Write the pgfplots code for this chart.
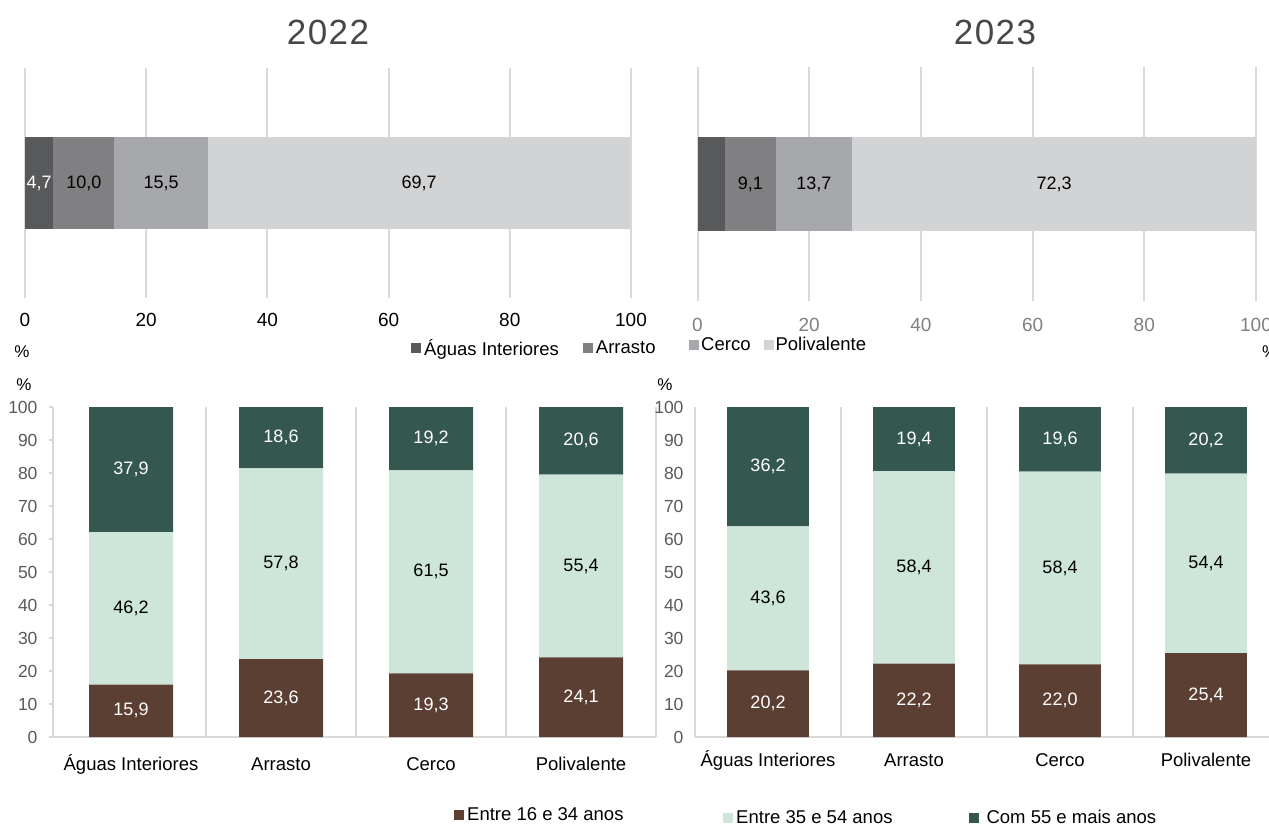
\documentclass[border=0pt]{standalone}
\usepackage{fontspec}
\setmainfont{Liberation Sans}
\usepackage{pgfplots}
\pgfplotsset{compat=1.18}
\definecolor{cA}{HTML}{58595B}
\definecolor{cB}{HTML}{808083}
\definecolor{cC}{HTML}{A7A8AB}
\definecolor{cD}{HTML}{D2D3D5}
\definecolor{cbrown}{HTML}{5C3F33}
\definecolor{clgreen}{HTML}{CDE6D9}
\definecolor{cdgreen}{HTML}{34574F}
\definecolor{gridc}{HTML}{D9D9D9}
\definecolor{tickc}{HTML}{595959}
\definecolor{tickg}{HTML}{808080}
\newcommand{\fs}[1]{\fontsize{#1}{#1}\selectfont}
\pgfplotsset{/pgf/number format/assume math mode=true}
\begin{document}
\begin{tikzpicture}
\useasboundingbox (0,0) rectangle (1269pt,828pt);
% ---------------- titles and units
\node[font=\fs{35}, text=black!72] at (328pt,796pt) {2\kern1.5pt0\kern1.5pt2\kern1.5pt2};
\node[font=\fs{35}, text=black!72] at (995pt,796pt) {2\kern1.5pt0\kern1.5pt2\kern1.5pt3};
\node[font=\fs{17}] at (22pt,476pt) {\%};
\node[font=\fs{17}, anchor=west, inner sep=0pt] at (1262pt,476pt) {\%};
\node[font=\fs{17}] at (24pt,443pt) {\%};
\node[font=\fs{17}] at (665pt,443pt) {\%};

% ---------------- top left 2022
\begin{axis}[
  at={(25pt,530pt)}, anchor=south west,
  scale only axis, width=606pt, height=230pt,
  xbar stacked, bar width=1,
  xmin=0, xmax=100, ymin=-1.25, ymax=1.25,
  xtick={0,20,40,60,80,100}, ytick=\empty,
  xmajorgrids, grid style={draw=gridc, line width=2pt},
  axis line style={draw=none}, major tick style={draw=none},
  xticklabel style={font=\fs{19}, text=black, yshift=-12pt},
  legend image code/.code={\fill[#1] (0pt,-5pt) rectangle (10pt,5pt);},
  legend style={draw=none, fill=none, inner sep=0pt, font=\fs{18.5},
    legend columns=-1, at={(0.637,-0.217)}, anchor=west,
    nodes={inner sep=0pt},
    /tikz/every odd column/.append style={column sep=3pt},
    /tikz/every even column/.append style={column sep=24pt}},
]
\addplot[fill=cA, draw=none] coordinates {(4.7,0)};
\addlegendentry{Águas Interiores}
\addplot[fill=cB, draw=none] coordinates {(10.0,0)};
\addlegendentry{Arrasto}
\addplot[fill=cC, draw=none, forget plot] coordinates {(15.5,0)};
\addplot[fill=cD, draw=none, forget plot] coordinates {(69.7,0)};
\end{axis}
\begin{axis}[
  at={(25pt,530pt)}, anchor=south west,
  scale only axis, width=606pt, height=230pt,
  xmin=0, xmax=100, ymin=-1.25, ymax=1.25, hide axis, clip=false,
  point meta=explicit,
  nodes near coords={\pgfmathprintnumber[fixed,fixed zerofill,precision=1,use comma]{\pgfplotspointmeta}},
  every node near coord/.append style={anchor=center, inner sep=0pt, font=\fs{18}},
]
\addplot[only marks, mark=none, every node near coord/.append style={text=white}] table[meta=v] {
x y v
2.35 0 4.7
};
\addplot[only marks, mark=none, every node near coord/.append style={text=black}] table[meta=v] {
x y v
9.7 0 10.0
22.45 0 15.5
65.05 0 69.7
};
\end{axis}

% ---------------- top right 2023
\begin{axis}[
  at={(697.5pt,527pt)}, anchor=south west,
  scale only axis, width=558.5pt, height=234pt,
  xbar stacked, bar width=1,
  xmin=0, xmax=100, ymin=-1.25, ymax=1.25,
  xtick={0,20,40,60,80,100}, ytick=\empty,
  xmajorgrids, grid style={draw=gridc, line width=2pt},
  axis line style={draw=none}, major tick style={draw=none},
  xticklabel style={font=\fs{19}, text=tickg, yshift=-14pt},
  legend image code/.code={\fill[#1] (0pt,-5pt) rectangle (10pt,5pt);},
  legend style={draw=none, fill=none, inner sep=0pt, font=\fs{18.5},
    legend columns=-1, at={(-0.0152,-0.188)}, anchor=west,
    nodes={inner sep=0pt},
    /tikz/every odd column/.append style={column sep=2pt},
    /tikz/every even column/.append style={column sep=13pt}},
]
\addplot[fill=cA, draw=none, forget plot] coordinates {(4.9,0)};
\addplot[fill=cB, draw=none, forget plot] coordinates {(9.1,0)};
\addplot[fill=cC, draw=none] coordinates {(13.7,0)};
\addlegendentry{Cerco}
\addplot[fill=cD, draw=none] coordinates {(72.3,0)};
\addlegendentry{Polivalente}
\end{axis}
\begin{axis}[
  at={(697.5pt,527pt)}, anchor=south west,
  scale only axis, width=558.5pt, height=234pt,
  xmin=0, xmax=100, ymin=-1.25, ymax=1.25, hide axis, clip=false,
  point meta=explicit,
  nodes near coords={\pgfmathprintnumber[fixed,fixed zerofill,precision=1,use comma]{\pgfplotspointmeta}},
  every node near coord/.append style={anchor=center, inner sep=0pt, font=\fs{18}, text=black},
]
\addplot[only marks, mark=none] table[meta=v] {
x y v
9.45 0 9.1
20.85 0 13.7
63.85 0 72.3
};
\end{axis}

% ---------------- bottom left 2022
\begin{axis}[
  at={(53pt,91pt)}, anchor=south west,
  scale only axis, width=603pt, height=330pt,
  ybar stacked, bar width=0.56,
  xmin=-0.52, xmax=3.5, ymin=0, ymax=100,
  xtick={0,1,2,3}, xticklabels={Águas Interiores,Arrasto,Cerco,Polivalente},
  ytick={0,10,...,100},
  axis x line*=bottom, axis y line*=left,
  axis line style={draw=gridc, line width=2pt},
  extra x ticks={0.5,1.5,2.5,3.5}, extra x tick labels={},
  extra x tick style={grid=major, major grid style={draw=gridc, line width=2pt}, major tick length=0pt},
  xtick style={draw=none},
  ytick style={draw=gridc, line width=1.5pt}, tick align=outside, major tick length=4pt,
  xticklabel style={font=\fs{18.5}, text=black, anchor=base, yshift=-29pt},
  yticklabel style={font=\fs{17.5}, text=tickc, xshift=-8pt},
  legend image code/.code={\fill[#1] (0pt,-5pt) rectangle (10pt,5pt);},
  legend style={draw=none, fill=none, inner sep=0pt, font=\fs{18.5},
    legend columns=-1, at={(0.665,-0.236)}, anchor=west,
    nodes={inner sep=0pt},
    /tikz/every odd column/.append style={column sep=3pt}},
]
\addplot[fill=cbrown, draw=none] coordinates {(0,15.9) (1,23.6) (2,19.3) (3,24.1)};
\addlegendentry{Entre 16 e 34 anos}
\addplot[fill=clgreen, draw=none, forget plot] coordinates {(0,46.2) (1,57.8) (2,61.5) (3,55.4)};
\addplot[fill=cdgreen, draw=none, forget plot] coordinates {(0,37.9) (1,18.6) (2,19.2) (3,20.6)};
\end{axis}
\begin{axis}[
  at={(53pt,91pt)}, anchor=south west,
  scale only axis, width=603pt, height=330pt,
  xmin=-0.52, xmax=3.5, ymin=0, ymax=100, hide axis, clip=false,
  point meta=explicit,
  nodes near coords={\pgfmathprintnumber[fixed,fixed zerofill,precision=1,use comma]{\pgfplotspointmeta}},
  every node near coord/.append style={anchor=center, inner sep=0pt, font=\fs{18}},
]
\addplot[only marks, mark=none, every node near coord/.append style={text=white}] table[meta=v] {
x y v
0 7.95 15.9
1 11.8 23.6
2 9.65 19.3
3 12.05 24.1
0 81.05 37.9
1 90.7 18.6
2 90.4 19.2
3 89.8 20.6
};
\addplot[only marks, mark=none, every node near coord/.append style={text=black}] table[meta=v] {
x y v
0 39.0 46.2
1 52.5 57.8
2 50.05 61.5
3 51.8 55.4
};
\end{axis}

% ---------------- bottom right 2023
\begin{axis}[
  at={(695pt,91pt)}, anchor=south west,
  scale only axis, width=584pt, height=330pt,
  ybar stacked, bar width=0.56,
  xmin=-0.5, xmax=3.5, ymin=0, ymax=100,
  xtick={0,1,2,3}, xticklabels={Águas Interiores,Arrasto,Cerco,Polivalente},
  ytick={0,10,...,100},
  axis x line*=bottom, axis y line*=left,
  axis line style={draw=gridc, line width=2pt},
  extra x ticks={0.5,1.5,2.5,3.5}, extra x tick labels={},
  extra x tick style={grid=major, major grid style={draw=gridc, line width=2pt}, major tick length=0pt},
  xtick style={draw=none},
  ytick style={draw=none},
  xticklabel style={font=\fs{18.5}, text=black, anchor=base, yshift=-29pt},
  yticklabel style={font=\fs{17.5}, text=tickc, xshift=-8pt},
  legend image code/.code={\fill[#1] (0pt,-5pt) rectangle (10pt,5pt);},
  legend style={draw=none, fill=none, inner sep=0pt, font=\fs{18.5},
    legend columns=-1, at={(0.048,-0.245)}, anchor=west,
    nodes={inner sep=0pt},
    /tikz/every odd column/.append style={column sep=3pt},
    /tikz/every even column/.append style={column sep=76pt}},
]
\addplot[fill=cbrown, draw=none, forget plot] coordinates {(0,20.2) (1,22.2) (2,22.0) (3,25.4)};
\addplot[fill=clgreen, draw=none] coordinates {(0,43.6) (1,58.4) (2,58.4) (3,54.4)};
\addlegendentry{Entre 35 e 54 anos}
\addplot[fill=cdgreen, draw=none] coordinates {(0,36.2) (1,19.4) (2,19.6) (3,20.2)};
\addlegendentry{\hspace{5pt}Com 55 e mais anos}
\end{axis}
\begin{axis}[
  at={(695pt,91pt)}, anchor=south west,
  scale only axis, width=584pt, height=330pt,
  xmin=-0.5, xmax=3.5, ymin=0, ymax=100, hide axis, clip=false,
  point meta=explicit,
  nodes near coords={\pgfmathprintnumber[fixed,fixed zerofill,precision=1,use comma]{\pgfplotspointmeta}},
  every node near coord/.append style={anchor=center, inner sep=0pt, font=\fs{18}},
]
\addplot[only marks, mark=none, every node near coord/.append style={text=white}] table[meta=v] {
x y v
0 10.1 20.2
1 11.1 22.2
2 11.0 22.0
3 12.7 25.4
0 81.9 36.2
1 90.3 19.4
2 90.2 19.6
3 89.9 20.2
};
\addplot[only marks, mark=none, every node near coord/.append style={text=black}] table[meta=v] {
x y v
0 42.0 43.6
1 51.4 58.4
2 51.2 58.4
3 52.6 54.4
};
\end{axis}
\end{tikzpicture}
\end{document}
